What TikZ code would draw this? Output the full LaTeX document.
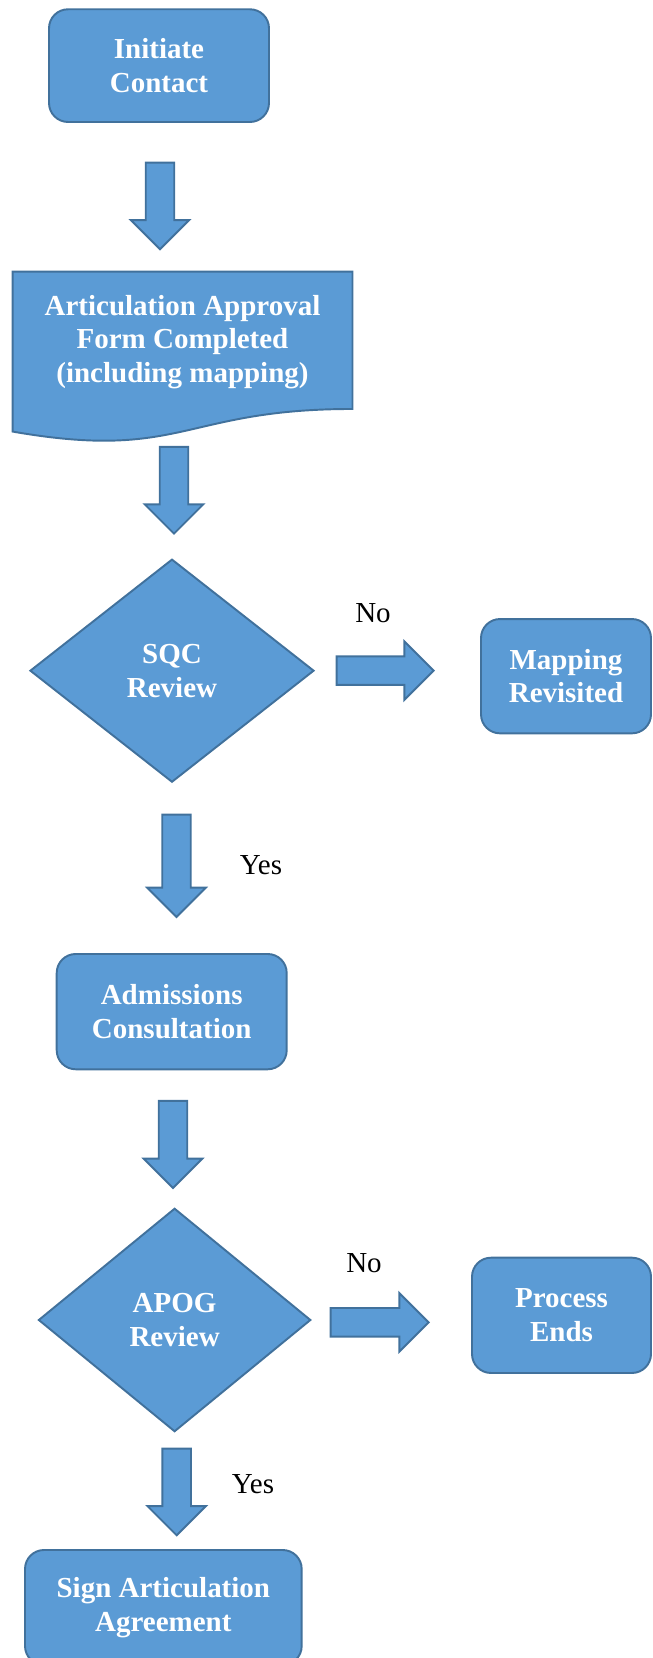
\documentclass[tikz,border=0pt]{standalone}
\usepackage{fontspec}
\setmainfont{Liberation Serif}
\usetikzlibrary{shapes.geometric,shapes.arrows}

\definecolor{boxblue}{HTML}{5B9BD5}
\definecolor{edgeblue}{HTML}{41719C}

\tikzset{
  flowfill/.style={draw=edgeblue, fill=boxblue, line width=1.1pt},
  procbox/.style={flowfill, rectangle, rounded corners=0.38cm, text=white,
    align=center, inner sep=0pt, font=\fontsize{16.5}{19.2}\selectfont\bfseries},
  decision/.style={flowfill, diamond, text=white, align=center, inner sep=0pt,
    font=\fontsize{16.5}{19.2}\selectfont\bfseries},
  blockarr/.style={flowfill, single arrow, anchor=tip, inner xsep=0pt,
    inner ysep=0.266cm, single arrow head extend=0.3cm, minimum width=0pt},
  downarr/.style={blockarr, rotate=-90, minimum height=#1},
  rightarr/.style={blockarr, minimum height=#1},
  answer/.style={font=\fontsize{16.5}{19.2}\selectfont},
}

\begin{document}
\begin{tikzpicture}
  \useasboundingbox (0,0) rectangle (13.04,33.16);

  % Start
  \node[procbox, minimum width=4.40cm, minimum height=2.254cm] (contact) at (3.18, 31.847) {Initiate\\Contact};
  \node[downarr=1.734cm] (ar1) at (3.20, 28.146) {};

  % Approval form (document shape)
  \filldraw[flowfill] (0.254,27.726) -- (7.05,27.726) -- (7.05,24.98)
    .. controls (3.652,24.98) and (3.652,23.934) .. (0.254,24.528) -- cycle;
  \node[procbox, draw=none, fill=none] (form) at (3.65, 26.32) {Articulation Approval\\Form Completed\\(including mapping)};
  \node[downarr=1.734cm] (ar2) at (3.48, 22.46) {};

  % SQC review
  \node[decision, minimum width=5.68cm, minimum height=4.46cm] (sqc) at (3.44, 19.746) {SQC\\Review};
  \node[rightarr=1.94cm] (ar3) at (8.70, 19.746) {};
  \node[answer] (no1) at (7.46, 20.894) {No};
  \node[procbox, minimum width=3.40cm, minimum height=2.286cm] (remap) at (11.32, 19.636) {Mapping\\Revisited};
  \node[downarr=2.046cm] (ar4) at (3.53, 14.794) {};
  \node[answer] (yes1) at (5.22, 15.86) {Yes};

  % Admissions
  \node[procbox, minimum width=4.6cm, minimum height=2.306cm] (admiss) at (3.434, 12.927) {Admissions\\Consultation};
  \node[downarr=1.74cm] (ar5) at (3.46, 9.374) {};

  % APOG review
  \node[decision, minimum width=5.446cm, minimum height=4.468cm] (apog) at (3.492, 6.76) {APOG\\Review};
  \node[rightarr=1.96cm] (ar6) at (8.60, 6.714) {};
  \node[answer] (no2) at (7.28, 7.894) {No};
  \node[procbox, minimum width=3.58cm, minimum height=2.306cm] (ends) at (11.23, 6.853) {Process\\Ends};
  \node[downarr=1.734cm] (ar7) at (3.534, 2.426) {};
  \node[answer] (yes2) at (5.06, 3.474) {Yes};

  % Agreement
  \node[procbox, minimum width=5.534cm, minimum height=2.30cm] (sign) at (3.267, 1.01) {Sign Articulation\\Agreement};
\end{tikzpicture}
\end{document}
